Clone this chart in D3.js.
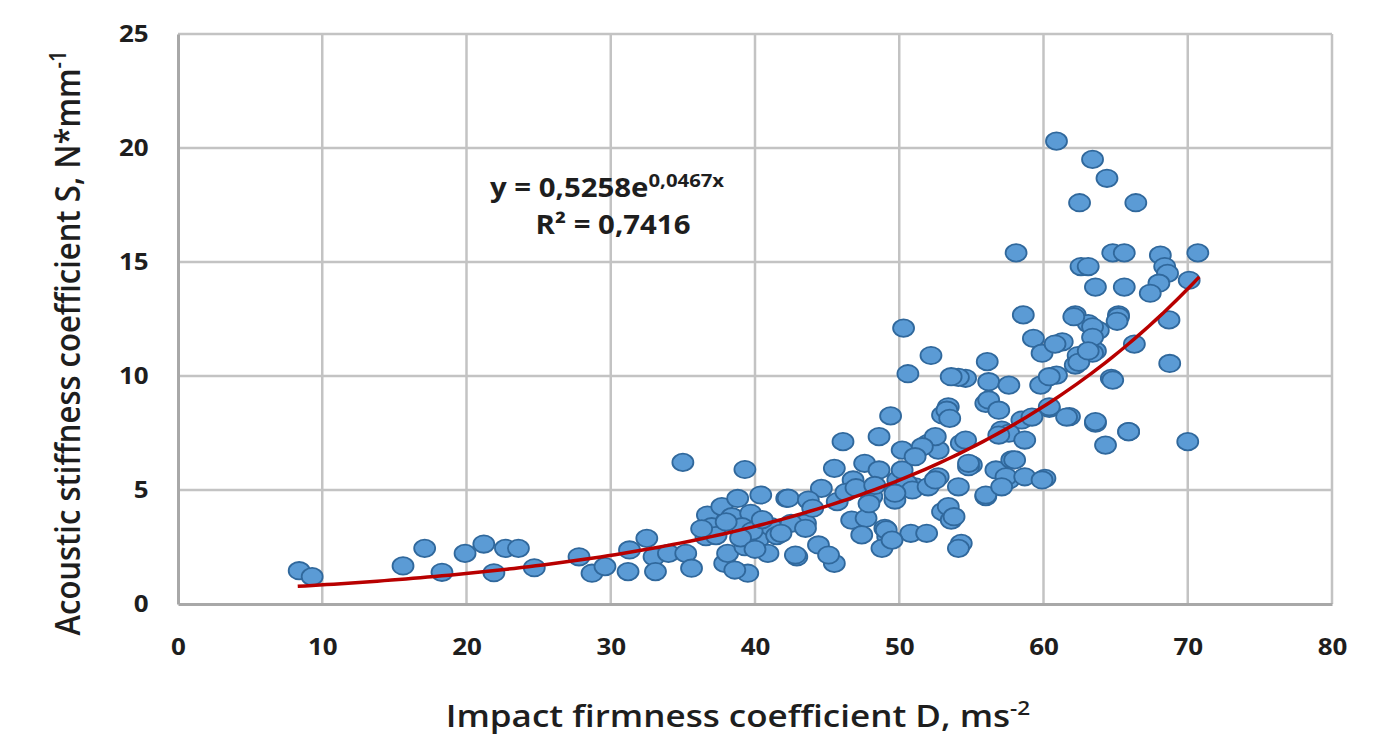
<html>
<head>
<script src="https://cdn.jsdelivr.net/npm/d3@7"></script>
<style>
  body { margin: 0; background: #fff; }
  text { font-family: "Open Sans", sans-serif; fill: #1e1e1e; }
</style>
</head>
<body>
<div id="chart"></div>
<script>
// D (ms^-2) and S (N*mm^-1)
var impactD = [8.4,9.3,15.6,17.1,18.3,19.9,21.2,21.9,22.7,23.6,24.7,27.8,
  28.7,29.6,31.3,31.2,32.5,33.0,33.1,34.0,35.2,35.6,35.0,39.3,
  36.7,37.7,36.6,37.0,37.9,38.8,38.4,39.5,38.6,38.1,39.3,39.7,40.4,39.1,40.2,40.9,41.1,42.2,42.9,43.5,
  37.3,38.0,39.8,40.5,39.0,40.0,41.5,36.3,
  49.4,48.6,46.1,50.2,45.5,47.6,48.6,46.8,44.6,42.3,43.7,45.7,48.1,49.9,49.7,51.1,52.0,52.7,52.7,53.4,53.0,54.3,55.0,54.1,56.0,56.7,57.8,57.6,57.1,56.0,
  42.5,43.5,42.8,44.4,45.5,45.1,46.7,47.7,47.4,49.0,49.2,48.8,50.8,51.9,53.0,53.6,54.3,54.1,41.8,
  44.0,46.3,47.0,48.3,47.9,50.5,
  58.6,62.2,65.2,63.1,63.8,59.3,61.3,59.9,62.4,63.6,66.3,56.1,62.2,54.6,60.9,59.8,56.2,57.6,64.7,56.2,56.9,60.4,61.8,63.6,65.9,64.3,58.5,57.6,58.7,54.6,58.0,54.8,57.4,58.7,60.1,56.0,57.1,
  64.8,65.6,70.7,68.1,62.6,63.1,68.4,63.6,65.6,68.6,68.0,67.4,70.1,65.2,68.7,63.4,63.4,64.8,68.75,63.6,65.9,70.0,
  60.9,63.4,64.4,62.5,66.4,58.1,62.1,63.4,62.45,65.1,
  50.3,52.2,50.6,54.1,53.6,53.3,53.5,52.5,54.8,56.9,60.4,61.6,63.1,60.8,60.4,59.2,59.9,53.4,53.8,49.1,49.5,50.2,50.9,52.0,52.5,51.6,51.1,49.7];
var stiffS = [1.46,1.2,1.67,2.44,1.39,2.22,2.63,1.37,2.44,2.44,1.59,2.07,
  1.35,1.64,2.37,1.42,2.88,2.07,1.42,2.22,2.22,1.57,6.21,5.9,
  3.9,4.27,2.95,3.39,1.78,4.63,3.83,1.35,1.49,2.22,2.51,3.98,4.78,3.39,2.81,2.22,3.39,4.63,2.07,3.54,
  3.0,3.6,3.2,3.7,2.9,2.4,3.0,3.3,
  8.25,7.34,7.12,6.75,5.95,6.17,5.88,5.44,5.07,4.64,4.56,4.49,4.71,5.44,4.56,5.14,7.05,6.75,5.58,8.65,8.29,7.05,6.1,5.14,4.71,5.88,6.32,5.44,7.63,8.8,
  3.54,3.32,2.15,2.59,1.78,2.15,3.68,3.76,3.03,3.32,2.95,2.44,3.1,3.1,4.05,3.68,2.66,2.44,3.1,
  4.2,4.9,5.1,5.2,4.4,5.3,
  12.68,12.68,12.68,12.3,12.0,11.65,11.5,11.0,10.9,11.1,11.4,10.63,10.48,9.9,10.04,9.6,9.75,9.6,9.9,8.95,8.5,8.58,8.22,7.93,7.56,6.97,8.07,7.49,7.19,7.19,6.32,6.02,5.58,5.58,5.51,4.78,5.14,
  15.4,15.4,15.4,15.3,14.8,14.8,14.8,13.9,13.9,14.5,14.07,13.63,14.2,12.6,12.46,12.16,11.0,9.82,10.55,8.0,7.56,7.12,
  20.3,19.5,18.67,17.6,17.6,15.4,12.6,11.7,10.6,12.4,
  12.1,10.9,10.1,9.94,9.97,8.5,8.14,7.34,6.17,7.41,8.65,8.2,11.1,11.4,9.97,8.2,5.44,4.27,3.83,3.25,2.8,5.88,5.0,5.14,5.44,6.9,6.46,4.86];

var xTicks = [0,10,20,30,40,50,60,70,80];
var yTicks = [0,5,10,15,20,25];
// exponential trend y = a*e^(b*x), as printed on the chart
var trendA = 0.5258, trendB = 0.0467;
var trendRange = [8.3, 70.8];

var width = 1385, height = 738;
var stretch = 1.13; // the original picture is a bit wider than tall
var svg = d3.select("#chart").append("svg")
  .attr("width", width)
  .attr("height", height);

var x = d3.scaleLinear().domain([0, 80]).range([178, 1332]);
var y = d3.scaleLinear().domain([0, 25]).range([604, 34]);

// grid
svg.append("g").selectAll("line").data(xTicks.slice(1)).enter().append("line")
  .attr("x1", d => x(d)).attr("x2", d => x(d))
  .attr("y1", y(0)).attr("y2", y(25))
  .attr("stroke", "#c3c3c3").attr("stroke-width", 2.5);
svg.append("g").selectAll("line").data(yTicks.slice(1)).enter().append("line")
  .attr("x1", x(0)).attr("x2", x(80))
  .attr("y1", d => y(d)).attr("y2", d => y(d))
  .attr("stroke", "#c3c3c3").attr("stroke-width", 2.5);

// axes
var xAxis = svg.append("g").attr("transform", "translate(0," + y(0) + ")")
  .call(d3.axisBottom(x).tickValues(xTicks).tickSize(0).tickPadding(35));
var yAxis = svg.append("g").attr("transform", "translate(" + x(0) + ",0)")
  .call(d3.axisLeft(y).tickValues(yTicks).tickSize(0).tickPadding(26));
[xAxis, yAxis].forEach(function(a) {
  a.select(".domain").attr("stroke", "#a8a8a8").attr("stroke-width", 3);
  a.selectAll("text").attr("font-size", 23).attr("font-weight", 700)
    .attr("font-family", "Open Sans").attr("fill", "#1e1e1e")
    .attr("transform", "scale(" + stretch + ",1)");
});

// points
svg.append("g").selectAll("ellipse").data(d3.range(impactD.length)).enter().append("ellipse")
  .attr("cx", i => x(impactD[i]))
  .attr("cy", i => y(stiffS[i]))
  .attr("rx", 10.5).attr("ry", 8.7)
  .attr("fill", "#5b9bd5")
  .attr("stroke", "#30689c")
  .attr("stroke-width", 1.8);

// trend line
var trendX = d3.range(trendRange[0], trendRange[1], 0.5).concat([trendRange[1]]);
svg.append("path")
  .datum(trendX)
  .attr("d", d3.line().x(d => x(d)).y(d => y(trendA * Math.exp(trendB * d))))
  .attr("fill", "none")
  .attr("stroke", "#b80000")
  .attr("stroke-width", 3.5);

// equation
var eq = svg.append("text")
  .attr("transform", "translate(490,197) scale(" + stretch + ",1)")
  .attr("font-size", 26).attr("font-weight", 700);
eq.append("tspan").text("y = 0,5258e");
eq.append("tspan").attr("dy", -10).attr("font-size", 18).text("0,0467x");
svg.append("text")
  .attr("transform", "translate(613,234) scale(" + stretch + ",1)")
  .attr("text-anchor", "middle")
  .attr("font-size", 26).attr("font-weight", 700)
  .text("R² = 0,7416");

// axis titles
var xt = svg.append("text")
  .attr("transform", "translate(738,727) scale(" + stretch + ",1)")
  .attr("text-anchor", "middle")
  .attr("font-size", 31).attr("font-weight", 600);
xt.append("tspan").text("Impact firmness coefficient D, ms");
xt.append("tspan").attr("dy", -12).attr("font-size", 20).text("-2");

var yt = svg.append("text")
  .attr("transform", "translate(80,343) scale(" + stretch + ",1) rotate(-90)")
  .attr("text-anchor", "middle")
  .attr("font-size", 31).attr("font-weight", 600);
yt.append("tspan").text("Acoustic stiffness coefficient S, N*mm");
yt.append("tspan").attr("dy", -12).attr("font-size", 20).text("-1");
</script>
</body>
</html>
